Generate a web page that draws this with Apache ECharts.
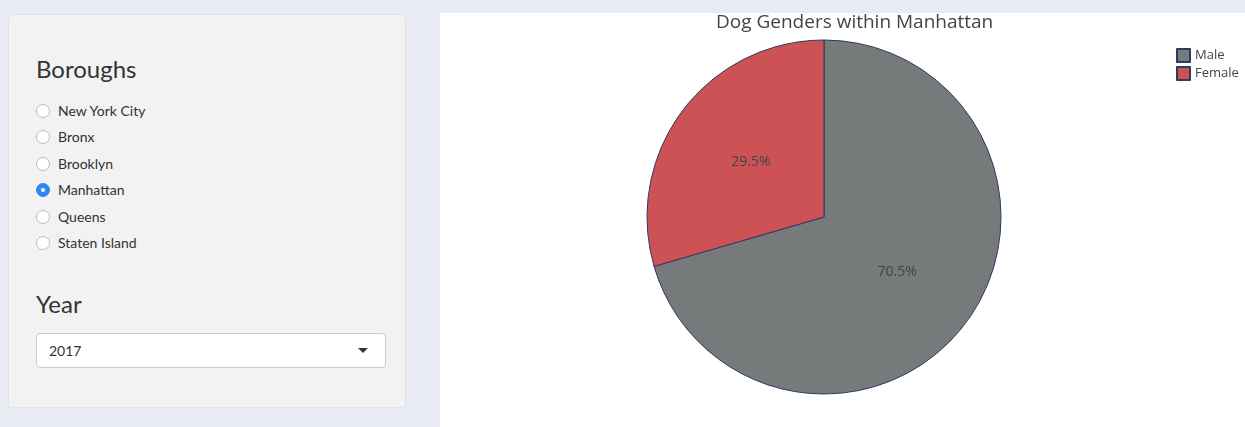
<!DOCTYPE html>
<html lang="en">
<head>
<meta charset="utf-8">
<title>Dog Genders within Manhattan</title>
<script src="https://cdn.jsdelivr.net/npm/echarts@6/dist/echarts.min.js"></script>
<style>
  html, body { margin:0; padding:0; }
  body { width:1245px; height:427px; background:#e8ebf4; position:relative; overflow:hidden;
         font-family:"Lato","Open Sans",sans-serif; color:#333; }
  .well { position:absolute; left:8px; top:14px; width:398px; height:394px; background:#f2f2f2;
          border:1px solid #e3e3e3; border-radius:4px; box-sizing:border-box; }
  .well h3 { position:absolute; left:27px; margin:0; font-weight:400; font-size:24px; color:#333; }
  .radio { position:absolute; left:27px; font-size:14px; height:20px; line-height:20px; }
  .radio i { position:absolute; left:0; top:3px; width:12px; height:12px; border-radius:50%;
             background:#fff; border:1px solid #bdbdbd; }
  .radio i.on { background:#2f86f6; border-color:#2f86f6; }
  .radio i.on:after { content:""; position:absolute; left:4px; top:4px; width:4px; height:4px;
                      border-radius:50%; background:#fff; }
  .radio span { position:absolute; left:22px; white-space:nowrap; }
  .select { position:absolute; left:27px; top:318px; width:350px; height:35px; background:#fff;
            border:1px solid #ccc; border-radius:4px; box-sizing:border-box; font-size:14px; }
  .select span { position:absolute; left:12px; top:8px; }
  .select b { position:absolute; right:17px; top:14px; width:0; height:0;
              border-left:5px solid transparent; border-right:5px solid transparent; border-top:5px solid #333; }
  #container { position:absolute; left:440px; top:13px; width:805px; height:414px; background:#fff; }
</style>
</head>
<body>
  <div class="well">
    <h3 style="top:39px">Boroughs</h3>
    <div id="boroughs"></div>
    <h3 style="top:274px">Year</h3>
    <div class="select"><span id="yearSel"></span><b></b></div>
  </div>
  <div id="container"></div>
<script>
var boroughs = ['New York City', 'Bronx', 'Brooklyn', 'Manhattan', 'Queens', 'Staten Island'];
var selectedBorough = 'Manhattan';
var selectedYear = '2017';

var genders = ['Male', 'Female'];
var genderShare = [70.5, 29.5];
var genderColors = ['#767a7a', '#cc5256'];

var html = [];
for (var i = 0; i < boroughs.length; i++) {
  html.push('<div class="radio" style="top:' + (86 + i * 26.4) + 'px"><i' +
    (boroughs[i] == selectedBorough ? ' class="on"' : '') + '></i><span>' + boroughs[i] + '</span></div>');
}
document.getElementById('boroughs').innerHTML = html.join('');
document.getElementById('yearSel').textContent = selectedYear;

var myChart = echarts.init(document.getElementById('container'));
var pieData = [];
for (var j = 0; j < genders.length; j++) {
  pieData.push({ name: genders[j], value: genderShare[j], itemStyle: { color: genderColors[j] } });
}
var option = {
  animation: false,
  title: {
    text: 'Dog Genders within ' + selectedBorough,
    left: 271, top: -5,
    textStyle: { fontFamily: 'Open Sans', fontSize: 19, fontWeight: 'normal', color: '#444' }
  },
  legend: {
    orient: 'vertical', left: 731, top: 30,
    itemWidth: 13, itemHeight: 13, itemGap: 3,
    icon: 'rect',
    textStyle: { fontFamily: 'Open Sans', fontSize: 13, color: '#444' },
    data: genders
  },
  series: [
    {
      name: 'Gender',
      type: 'pie',
      center: [384, 204],
      radius: 177,
      startAngle: 90,
      clockwise: true,
      percentPrecision: 1,
      itemStyle: { borderColor: '#2e3a5e', borderWidth: 1 },
      label: {
        position: 'inside',
        formatter: '{d}%',
        fontFamily: 'Open Sans', fontSize: 14, color: '#444'
      },
      labelLine: { show: false },
      emphasis: { disabled: true },
      data: pieData
    }
  ]
};
myChart.setOption(option);
</script>
</body>
</html>
